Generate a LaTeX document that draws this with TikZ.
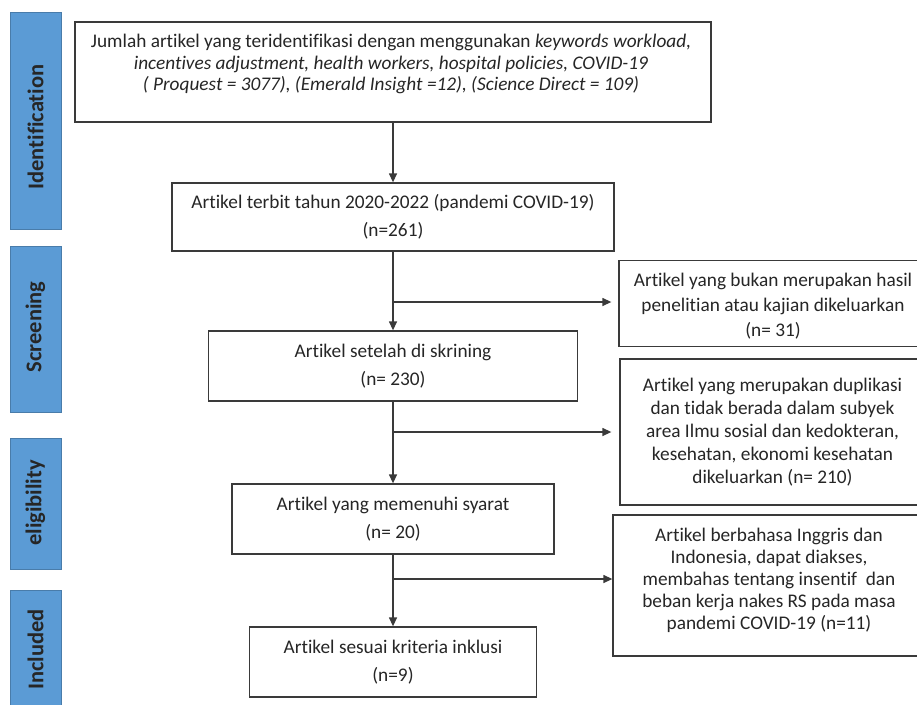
\documentclass[tikz,border=0pt]{standalone}
\usepackage{fontspec}
\setmainfont{Carlito}[Ligatures=NoCommon]
\usetikzlibrary{arrows.meta}
\definecolor{barblue}{HTML}{5B9BD5}
\definecolor{txt}{HTML}{262626}
\definecolor{edge}{HTML}{3A3A3A}
\tikzset{
  box/.style={draw=edge, line width=1.3pt, fill=white, inner sep=0pt, text=txt, align=center},
  mainbox/.style={box, font=\fontsize{19.3}{28}\selectfont},
  sidebox/.style={box, font=\fontsize{19.3}{23}\selectfont},
  plaintext/.style={draw=none, fill=none, inner sep=0pt, text=txt, align=center},
  phase/.style={fill=barblue, draw=barblue!80!black, line width=0.4pt, minimum width=51pt, inner sep=0pt},
  phasetext/.style={rotate=90, inner sep=0pt, text=black!85, font=\fontsize{22.5}{26}\selectfont\bfseries},
  flow/.style={draw=edge, line width=1.3pt, -{Triangle[length=9pt,width=8pt]}},
}
\begin{document}
\begin{tikzpicture}[x=1pt,y=-1pt]
\useasboundingbox (0,0) rectangle (917,704);
\begin{scope}
\clip (0,0) rectangle (917,704);
% phase bars
\node[phase, minimum height=217pt] (pid) at (35.5,120.5) {};
\node[phasetext] (pidt) at (35.5,127) {Identification};
\node[phase, minimum height=166pt] (psc) at (35.5,329) {};
\node[phasetext] (psct) at (35.5,327) {Screening};
\node[phase, minimum height=131pt] (pel) at (35.5,503.5) {};
\node[phasetext] (pelt) at (35.5,503) {eligibility};
\node[phase, minimum height=130pt] (pin) at (35.5,655) {};
\node[phasetext] (pint) at (35.5,649.5) {Included};

% main column
\node[box, minimum width=636pt, minimum height=100pt] (top) at (393,72) {};
\node[plaintext, font=\fontsize{19.3}{21.5}\selectfont] (toptext) at (391,64) {Jumlah artikel yang teridentifikasi dengan menggunakan \textit{keywords workload,}\\
\textit{incentives adjustment, health workers, hospital policies, COVID-19}\\
\textit{( Proquest = 3077), (Emerald Insight =12), (Science Direct = 109)}};
\node[mainbox, minimum width=442pt, minimum height=68pt] (b2) at (393,217) {Artikel terbit tahun 2020-2022 (pandemi COVID-19)\\(n=261)};
\node[mainbox, minimum width=369pt, minimum height=70pt] (b3) at (393,366) {Artikel setelah di skrining\\(n= 230)};
\node[mainbox, minimum width=322pt, minimum height=70pt] (b4) at (393,519) {Artikel yang memenuhi syarat\\(n= 20)};
\node[mainbox, minimum width=287pt, minimum height=70pt] (b5) at (393,662) {Artikel sesuai kriteria inklusi\\(n=9)};

% right column
\node[box, minimum width=306pt, minimum height=86pt] (r1) at (772,303.5) {};
\node[plaintext, font=\fontsize{19.3}{25}\selectfont] (r1text) at (773,306) {Artikel yang bukan merupakan hasil\\penelitian atau kajian dikeluarkan\\(n= 31)};
\node[sidebox, minimum width=305pt, minimum height=146pt] (r2) at (772.5,432) {Artikel yang merupakan duplikasi\\dan tidak berada dalam subyek\\area Ilmu sosial dan kedokteran,\\kesehatan, ekonomi kesehatan\\dikeluarkan (n= 210)};
\node[box, minimum width=312pt, minimum height=141pt] (r3) at (769,585.5) {};
\node[plaintext, font=\fontsize{19.3}{22}\selectfont] (r3text) at (769,580) {Artikel berbahasa Inggris dan\\Indonesia, dapat diakses,\\membahas tentang insentif\ \ dan\\beban kerja nakes RS pada masa\\pandemi COVID-19 (n=11)};

% connectors
\draw[flow] (top.south) -- (b2.north);
\draw[flow] (b2.south) -- (b3.north);
\draw[flow] (b3.south) -- (b4.north);
\draw[flow] (b4.south) -- (b5.north);
\coordinate (j1) at (393,302);
\coordinate (j2) at (393,432);
\coordinate (j3) at (393,579);
\draw[flow, shorten >=7pt] (j1) -- (j1 -| r1.west);
\draw[flow, shorten >=8pt] (j2) -- (j2 -| r2.west);
\draw[flow] (j3) -- (j3 -| r3.west);
\end{scope}
\end{tikzpicture}
\end{document}
